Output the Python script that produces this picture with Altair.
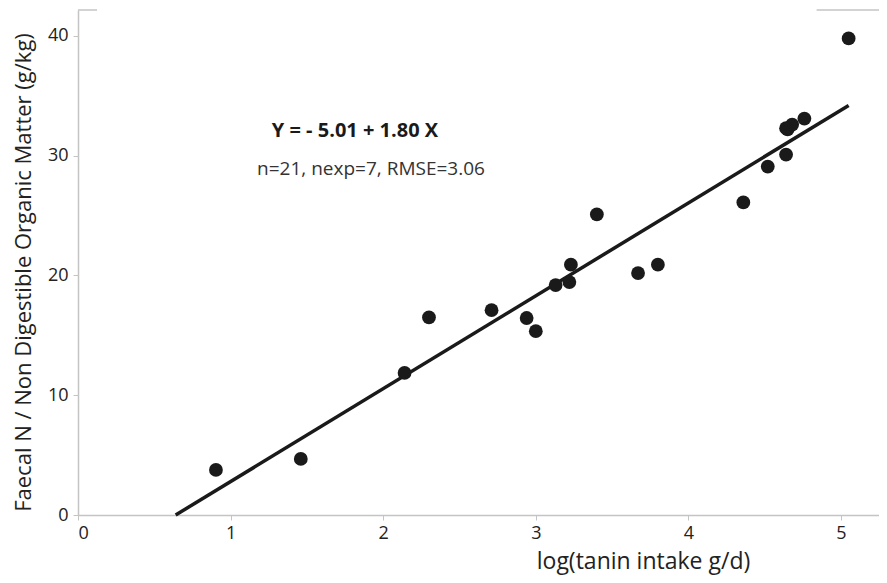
import altair as alt
import pandas as pd

# Data
x_vals = [0.904, 1.46, 2.14, 2.30, 2.71, 2.94, 3.00, 3.13, 3.22, 3.23, 3.40,
          3.67, 3.80, 4.36, 4.52, 4.64, 4.64, 4.68, 4.76, 5.05, 4.65]
y_vals = [3.76, 4.68, 11.86, 16.5, 17.1, 16.45, 15.35, 19.2, 19.45, 20.9, 25.1,
          20.2, 20.9, 26.1, 29.1, 30.1, 32.3, 32.6, 33.1, 39.8, 32.2]

fit_x = [0.64, 5.05]
fit_y = [0.0, 34.2]

x_ticks = [0, 1, 2, 3, 4, 5]
y_ticks = [0, 10, 20, 30, 40]

X_MAX = 5.249
Y_MAX = 42.17

eq_text = ["Y = - 5.01 + 1.80 X"]
eq_pos = [(1.815, 31.57)]
stat_text = ["n=21, nexp=7, RMSE=3.06"]
stat_pos = [(1.92, 28.39)]

frame_segments = [(0.0, 0.125), (4.84, X_MAX)]

FONT = "Open Sans"
DARK = "#1a1a1a"

pts = pd.DataFrame({"x": x_vals, "y": y_vals})
fit = pd.DataFrame({"x": fit_x, "y": fit_y})
eq = pd.DataFrame({"x": [p[0] for p in eq_pos], "y": [p[1] for p in eq_pos], "t": eq_text})
st = pd.DataFrame({"x": [p[0] for p in stat_pos], "y": [p[1] for p in stat_pos], "t": stat_text})
fr = pd.DataFrame({"x": [s[0] for s in frame_segments], "x2": [s[1] for s in frame_segments],
                   "y": [Y_MAX] * len(frame_segments)})

xscale = alt.Scale(domain=[0, X_MAX], nice=False, zero=False)
yscale = alt.Scale(domain=[0, Y_MAX], nice=False, zero=False)

xaxis = alt.Axis(values=x_ticks, format="d", grid=False, title="log(tanin intake g/d)",
                 domainColor="#c4c4c4", tickColor="#c4c4c4", tickSize=5,
                 labelFont=FONT, labelFontSize=18, labelColor="#222222", labelPadding=4,
                 titleFont=FONT, titleFontSize=23, titleFontWeight="normal", titleColor="#222222",
                 titleX=565, titleY=53, titleBaseline="alphabetic", titleAlign="center",
                 domainWidth=1.5)
yaxis = alt.Axis(values=y_ticks, format="d", grid=False,
                 title="Faecal N / Non Digestible Organic Matter (g/kg)",
                 domainColor="#c4c4c4", tickColor="#c4c4c4", tickSize=5,
                 labelFont=FONT, labelFontSize=18, labelColor="#222222", labelPadding=5,
                 titleFont=FONT, titleFontSize=22, titleFontWeight="normal", titleColor="#222222",
                 titleX=-55, titleY=262, titleAngle=-90, titleAlign="center", titleBaseline="middle",
                 domainWidth=1.5)

points = alt.Chart(pts).mark_circle(size=190, color=DARK, opacity=1).encode(
    x=alt.X("x:Q", scale=xscale, axis=xaxis),
    y=alt.Y("y:Q", scale=yscale, axis=yaxis),
)

line = alt.Chart(fit).mark_line(color=DARK, strokeWidth=3.5).encode(
    x=alt.X("x:Q", scale=xscale),
    y=alt.Y("y:Q", scale=yscale),
)

frame = alt.Chart(fr).mark_rule(color="#c4c4c4", strokeWidth=1.5).encode(
    x=alt.X("x:Q", scale=xscale),
    x2="x2:Q",
    y=alt.Y("y:Q", scale=yscale),
)

eq_mark = alt.Chart(eq).mark_text(font=FONT, fontSize=20, fontWeight="bold", color=DARK,
                                  align="center", baseline="alphabetic").encode(
    x=alt.X("x:Q", scale=xscale), y=alt.Y("y:Q", scale=yscale), text="t:N")

st_mark = alt.Chart(st).mark_text(font=FONT, fontSize=19, color="#333333",
                                  align="center", baseline="alphabetic").encode(
    x=alt.X("x:Q", scale=xscale), y=alt.Y("y:Q", scale=yscale), text="t:N")

chart = alt.layer(frame, line, points, eq_mark, st_mark).properties(
    width=801, height=505,
    autosize=alt.AutoSizeParams(type="none"),
    padding={"left": 70, "top": 2, "right": 0, "bottom": 60},
).configure_view(stroke=None)

chart.save("out.html", embed_options={"renderer": "svg", "actions": False})
